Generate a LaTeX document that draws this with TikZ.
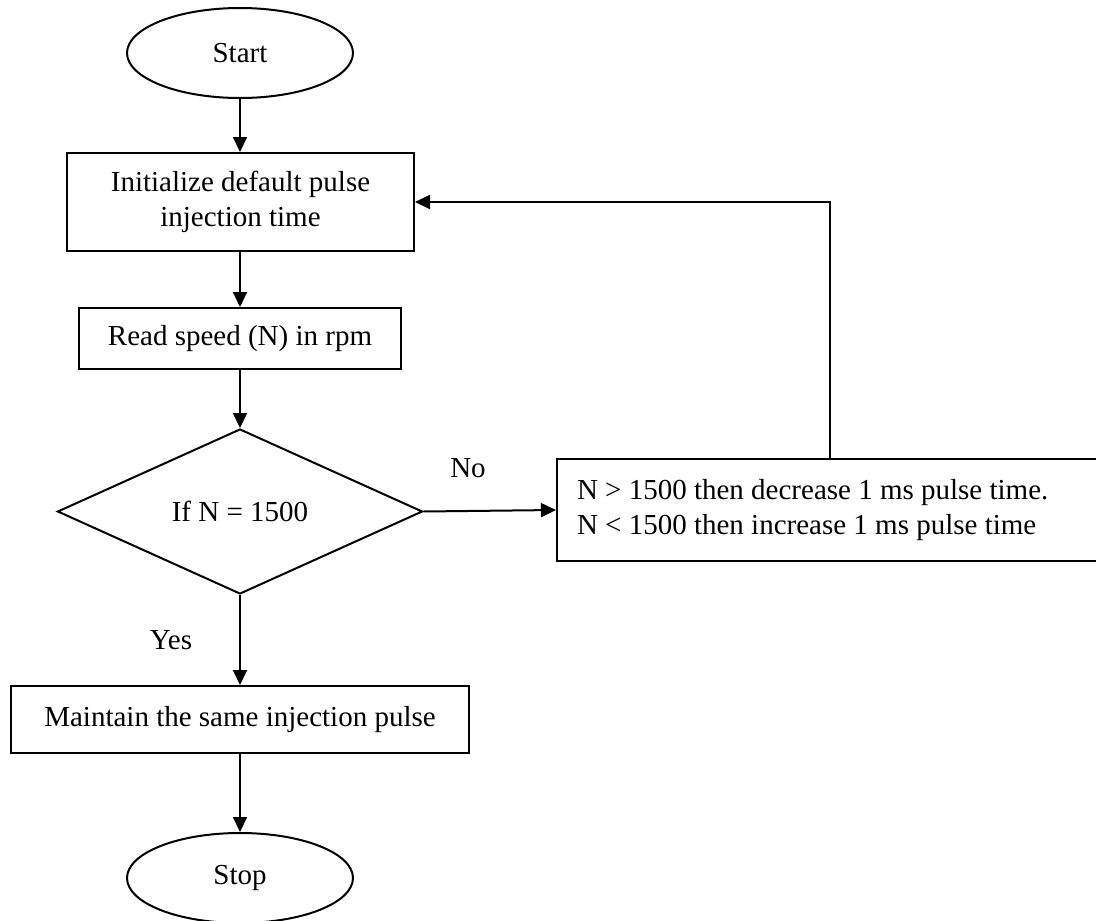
\documentclass[tikz,border=0pt]{standalone}
\usepackage{fontspec}
\setmainfont{Liberation Serif}
\usetikzlibrary{shapes.geometric,arrows.meta,calc}
\begin{document}
\begin{tikzpicture}[x=1pt,y=-1pt,
  every node/.style={font=\fontsize{29}{35}\selectfont},
  box/.style={draw,line width=2pt,inner sep=0pt,align=center},
  term/.style={draw,ellipse,line width=2pt,inner sep=0pt,minimum width=226pt,minimum height=90pt},
  cond/.style={draw,diamond,line width=2pt,inner sep=0pt,minimum width=365pt,minimum height=165pt},
  flow/.style={line width=2pt,-{Triangle[length=15pt,width=14pt]}},
  lbl/.style={inner sep=0pt}
]
\useasboundingbox (0,0) rectangle (1096,921);

% process steps
\node[term] (start) at (240,53) {Start};
\node[box,minimum width=347pt,minimum height=98pt] (init) at (240.5,202)
  {Initialize default pulse\\injection time};
\node[box,minimum width=322pt,minimum height=61pt] (read) at (240,338.5)
  {Read speed (N) in rpm};
\node[cond] (dec) at (240,511.5) {If N = 1500};
\node[box,minimum width=560pt,minimum height=102pt] (adj) at (837,510)
  {\parbox{520pt}{\raggedright N > 1500 then decrease 1 ms pulse time.\\N < 1500 then increase 1 ms pulse time}};
\node[box,minimum width=458pt,minimum height=67pt] (maint) at (240,719.5)
  {Maintain the same injection pulse};
\node[term] (stop) at (240,878) {Stop};

% branch labels
\node[lbl] (no) at (468,468) {No};
\node[lbl] (yes) at (171,640) {Yes};

% connectors
\draw[flow] (start.south) -- (start.south |- init.north);
\draw[flow] (init.south -| read.north) -- (read.north);
\draw[flow] (read.south) -- (dec.north);
\draw[flow] (dec.east) -- (adj.west);
\draw[flow] (dec.south) -- (maint.north);
\draw[flow] (maint.south) -- (stop.north);

% feedback loop back to the initialisation step
\coordinate (turn) at (830,202);
\draw[line width=1.3pt] (adj.north -| turn) -- (turn);
\draw[flow] ([xshift=0.65pt]turn) -- (init.east);
\end{tikzpicture}
\end{document}
